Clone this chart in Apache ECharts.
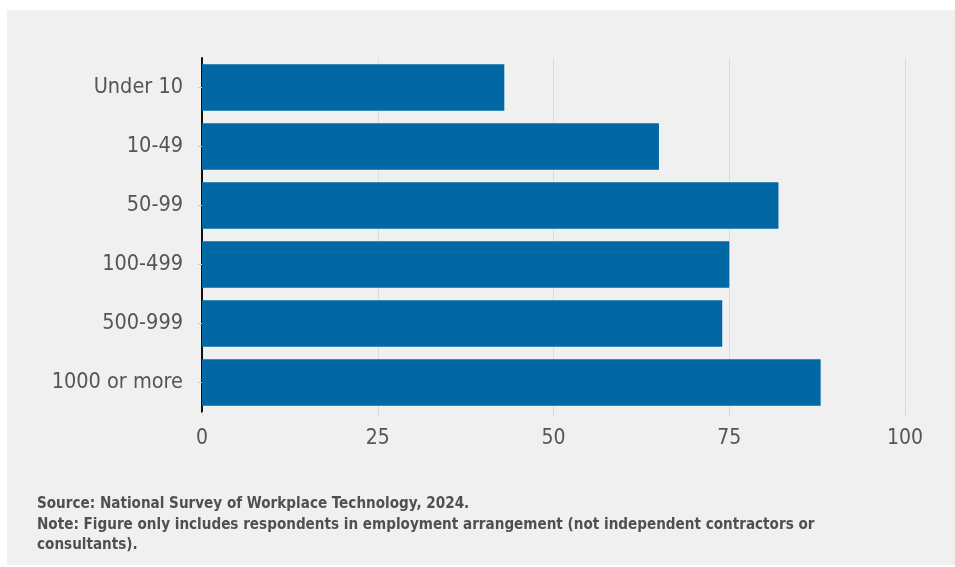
<!DOCTYPE html>
<html>
<head>
<meta charset="utf-8">
<script src="https://cdn.jsdelivr.net/npm/echarts@6/dist/echarts.min.js"></script>
<style>
  html, body { margin: 0; padding: 0; background: #ffffff; }
  #chart { width: 955px; height: 567px; }
</style>
</head>
<body>
<div id="chart"></div>
<script>
// Share of respondents by organisation size
const categories = ['Under 10', '10-49', '50-99', '100-499', '500-999', '1000 or more'];
const values = [43, 65, 82, 75, 74, 88];
const xTicks = [0, 25, 50, 75, 100];
const notes = [
  'Source: National Survey of Workplace Technology, 2024.',
  'Note: Figure only includes respondents in employment arrangement (not independent contractors or',
  'consultants).'
];

const FONT = '"DejaVu Sans Condensed", "DejaVu Sans", sans-serif';

const chart = echarts.init(document.getElementById('chart'), null, { renderer: 'canvas' });

chart.setOption({
  animation: false,
  backgroundColor: 'transparent',
  graphic: [
    {
      type: 'rect',
      z: -10,
      silent: true,
      shape: { x: 7, y: 10, width: 948, height: 555 },
      style: { fill: '#f0f0f0' }
    },
    {
      type: 'text',
      left: 37,
      top: 494,
      silent: true,
      style: {
        text: notes.join('\n'),
        font: 'bold 15.1px ' + FONT,
        lineHeight: 20.5,
        fill: '#505050'
      }
    }
  ],
  grid: { left: 202, right: 50, top: 58, height: 354, containLabel: false },
  xAxis: {
    type: 'value',
    min: xTicks[0],
    max: xTicks[xTicks.length - 1],
    interval: 25,
    axisLine: { show: false },
    axisTick: { show: true, length: 5, lineStyle: { color: '#d8d8d8', width: 1 } },
    splitLine: { show: true, lineStyle: { color: '#dcdcdc', width: 1 } },
    axisLabel: {
      margin: 16,
      fontFamily: FONT,
      fontSize: 21,
      color: '#555555'
    }
  },
  yAxis: {
    type: 'category',
    data: categories,
    inverse: true,
    axisLine: { show: true, lineStyle: { color: '#111111', width: 2 } },
    axisTick: { show: true, length: 4, alignWithLabel: true, lineStyle: { color: '#cccccc' } },
    axisLabel: {
      margin: 19,
      padding: [7, 0, 0, 0],
      fontFamily: FONT,
      fontSize: 21.5,
      color: '#555555'
    }
  },
  series: [{
    type: 'bar',
    data: values,
    barCategoryGap: '21%',
    itemStyle: { color: '#0168a5' }
  }]
});
</script>
</body>
</html>
